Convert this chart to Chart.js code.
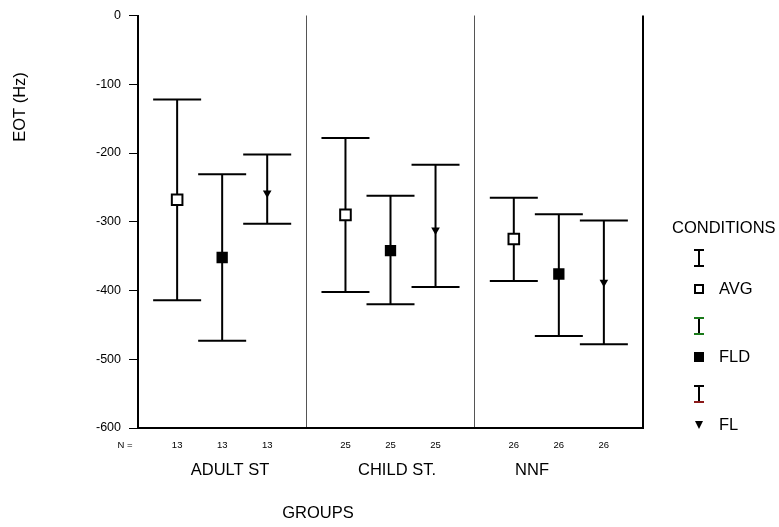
<!DOCTYPE html>
<html>
<head>
<meta charset="utf-8">
<script src="https://cdn.jsdelivr.net/npm/chart.js@4.4.1/dist/chart.umd.min.js"></script>
<style>
  html, body { margin: 0; padding: 0; background: #fff; }
  #wrap { width: 779px; height: 527px; }
</style>
</head>
<body>
<div id="wrap"><canvas id="myChart" width="779" height="527"></canvas></div>
<script>
// groups along the x axis and the three conditions inside each group
const groups = ["ADULT ST", "CHILD ST.", "NNF"];
const conditions = ["AVG", "FLD", "FL"];
const nCounts = [13, 13, 13, 25, 25, 25, 26, 26, 26];

// mean and error bar ends (EOT, Hz), one value per group
const avgMean = [-268, -290, -325];
const avgLow  = [-414, -402, -386];
const avgHigh = [-122, -178, -265];

const fldMean = [-352, -342, -376];
const fldLow  = [-473, -420, -466];
const fldHigh = [-231, -262, -289];

const flMean = [-258, -312, -388];
const flLow  = [-303, -395, -478];
const flHigh = [-202, -217, -298];

const yTicks = [0, -100, -200, -300, -400, -500, -600];

const FONT = "'Liberation Sans', Arial, sans-serif";

let series = [
    { mean: avgMean, low: avgLow, high: avgHigh },
    { mean: fldMean, low: fldLow, high: fldHigh },
    { mean: flMean, low: flLow, high: flHigh }
];

// x slot for a condition inside a group: 4 units per group, bars a bit wider apart than 1 unit
let slot = (g, c) => g * 4 + 2 + (c - 1) * 1.07;

let points = idx => groups.map((g, gi) => ({ x: slot(gi, idx), y: series[idx].mean[gi] }));

const errorBars = {
    id: "errorBars",
    beforeDatasetsDraw(chart) {
        let ctx = chart.ctx, xs = chart.scales.x, ys = chart.scales.y;
        ctx.save();
        ctx.strokeStyle = "#000";
        ctx.lineWidth = 2;
        series.forEach((s, ci) => {
            groups.forEach((g, gi) => {
                let x = xs.getPixelForValue(slot(gi, ci));
                let yl = ys.getPixelForValue(s.low[gi]);
                let yh = ys.getPixelForValue(s.high[gi]);
                ctx.beginPath();
                ctx.moveTo(x, yh); ctx.lineTo(x, yl);
                ctx.moveTo(x - 24, yh); ctx.lineTo(x + 24, yh);
                ctx.moveTo(x - 24, yl); ctx.lineTo(x + 24, yl);
                ctx.stroke();
            });
        });
        ctx.restore();
    },
    afterDraw(chart) {
        let ctx = chart.ctx, xs = chart.scales.x, area = chart.chartArea;
        ctx.save();
        // right frame line
        ctx.strokeStyle = "#000";
        ctx.lineWidth = 2;
        ctx.beginPath();
        ctx.moveTo(area.right, area.top);
        ctx.lineTo(area.right, area.bottom + 1);
        ctx.stroke();

        ctx.fillStyle = "#000";
        ctx.textBaseline = "middle";

        // counts under each bar
        ctx.font = "9.5px " + FONT;
        ctx.textAlign = "center";
        nCounts.forEach((n, i) => {
            let gi = Math.floor(i / 3), ci = i % 3;
            ctx.fillText(String(n), xs.getPixelForValue(slot(gi, ci)), area.bottom + 17);
        });
        ctx.fillText("N =", 125, area.bottom + 17);

        // group names
        ctx.font = "16.5px " + FONT;
        let groupX = [230, 397, 532];
        groups.forEach((g, gi) => ctx.fillText(g, groupX[gi], area.bottom + 42));
        ctx.fillText("GROUPS", 318, 513);

        // y axis title
        ctx.save();
        ctx.translate(20, 107);
        ctx.rotate(-Math.PI / 2);
        ctx.fillText("EOT (Hz)", 0, 0);
        ctx.restore();

        // legend
        ctx.textAlign = "left";
        ctx.fillText("CONDITIONS", 672, 228);
        let capColors = [["#000", "#000"], ["#1a7a1a", "#1a7a1a"], ["#000", "#8b1a1a"]];
        let legY = [258, 326, 394];
        conditions.forEach((c, ci) => {
            let y0 = legY[ci] - 8, y1 = legY[ci] + 8, x = 699;
            ctx.lineWidth = 2;
            ctx.strokeStyle = "#000";
            ctx.beginPath(); ctx.moveTo(x, y0); ctx.lineTo(x, y1); ctx.stroke();
            ctx.strokeStyle = capColors[ci][0];
            ctx.beginPath(); ctx.moveTo(x - 5, y0); ctx.lineTo(x + 5, y0); ctx.stroke();
            ctx.strokeStyle = capColors[ci][1];
            ctx.beginPath(); ctx.moveTo(x - 5, y1); ctx.lineTo(x + 5, y1); ctx.stroke();
            let my = legY[ci] + 31;
            ctx.strokeStyle = "#000";
            ctx.fillStyle = "#000";
            if (ci === 0) {
                ctx.fillStyle = "#fff";
                ctx.fillRect(x - 4, my - 4, 8, 8);
                ctx.strokeRect(x - 4, my - 4, 8, 8);
            } else if (ci === 1) {
                ctx.fillRect(x - 5, my - 5, 10, 10);
            } else {
                ctx.beginPath();
                ctx.moveTo(x - 4, my - 4); ctx.lineTo(x + 4, my - 4); ctx.lineTo(x, my + 4);
                ctx.closePath(); ctx.fill();
            }
            ctx.fillStyle = "#000";
            ctx.fillText(c, 719, my);
        });
        ctx.restore();
    }
};

const data = {
    datasets: [
        {
            label: "AVG",
            data: points(0),
            pointStyle: "rect",
            pointRadius: 7.5,
            backgroundColor: "#fff",
            borderColor: "#000",
            borderWidth: 2
        },
        {
            label: "FLD",
            data: points(1),
            pointStyle: "rect",
            pointRadius: 8,
            backgroundColor: "#000",
            borderColor: "#000",
            borderWidth: 0
        },
        {
            label: "FL",
            data: points(2),
            pointStyle: "triangle",
            rotation: 180,
            pointRadius: 5,
            backgroundColor: "#000",
            borderColor: "#000",
            borderWidth: 0
        }
    ]
};

const config = {
    type: "scatter",
    data: data,
    options: {
        responsive: false,
        animation: false,
        layout: { padding: { top: 14, right: 136, left: 0, bottom: 0 } },
        plugins: { legend: { display: false }, tooltip: { enabled: false } },
        scales: {
            x: {
                type: "linear",
                min: 0,
                max: 12,
                afterBuildTicks: scale => { scale.ticks = [4, 8].map(v => ({ value: v })); },
                afterFit: scale => { scale.height = 99; },
                ticks: { display: false },
                grid: { color: "#555", lineWidth: 1, drawTicks: false },
                border: { color: "#000", width: 2 }
            },
            y: {
                min: -600,
                max: 0,
                afterBuildTicks: scale => { scale.ticks = yTicks.map(v => ({ value: v })); },
                afterFit: scale => { scale.width = 138; },
                ticks: { color: "#000", font: { family: FONT, size: 12.5 }, padding: 8 },
                grid: { drawOnChartArea: false, color: "#000", tickLength: 9, lineWidth: 1 },
                border: { color: "#000", width: 2 }
            }
        }
    },
    plugins: [errorBars]
};

var myChart = new Chart(document.getElementById("myChart"), config);
</script>
</body>
</html>
